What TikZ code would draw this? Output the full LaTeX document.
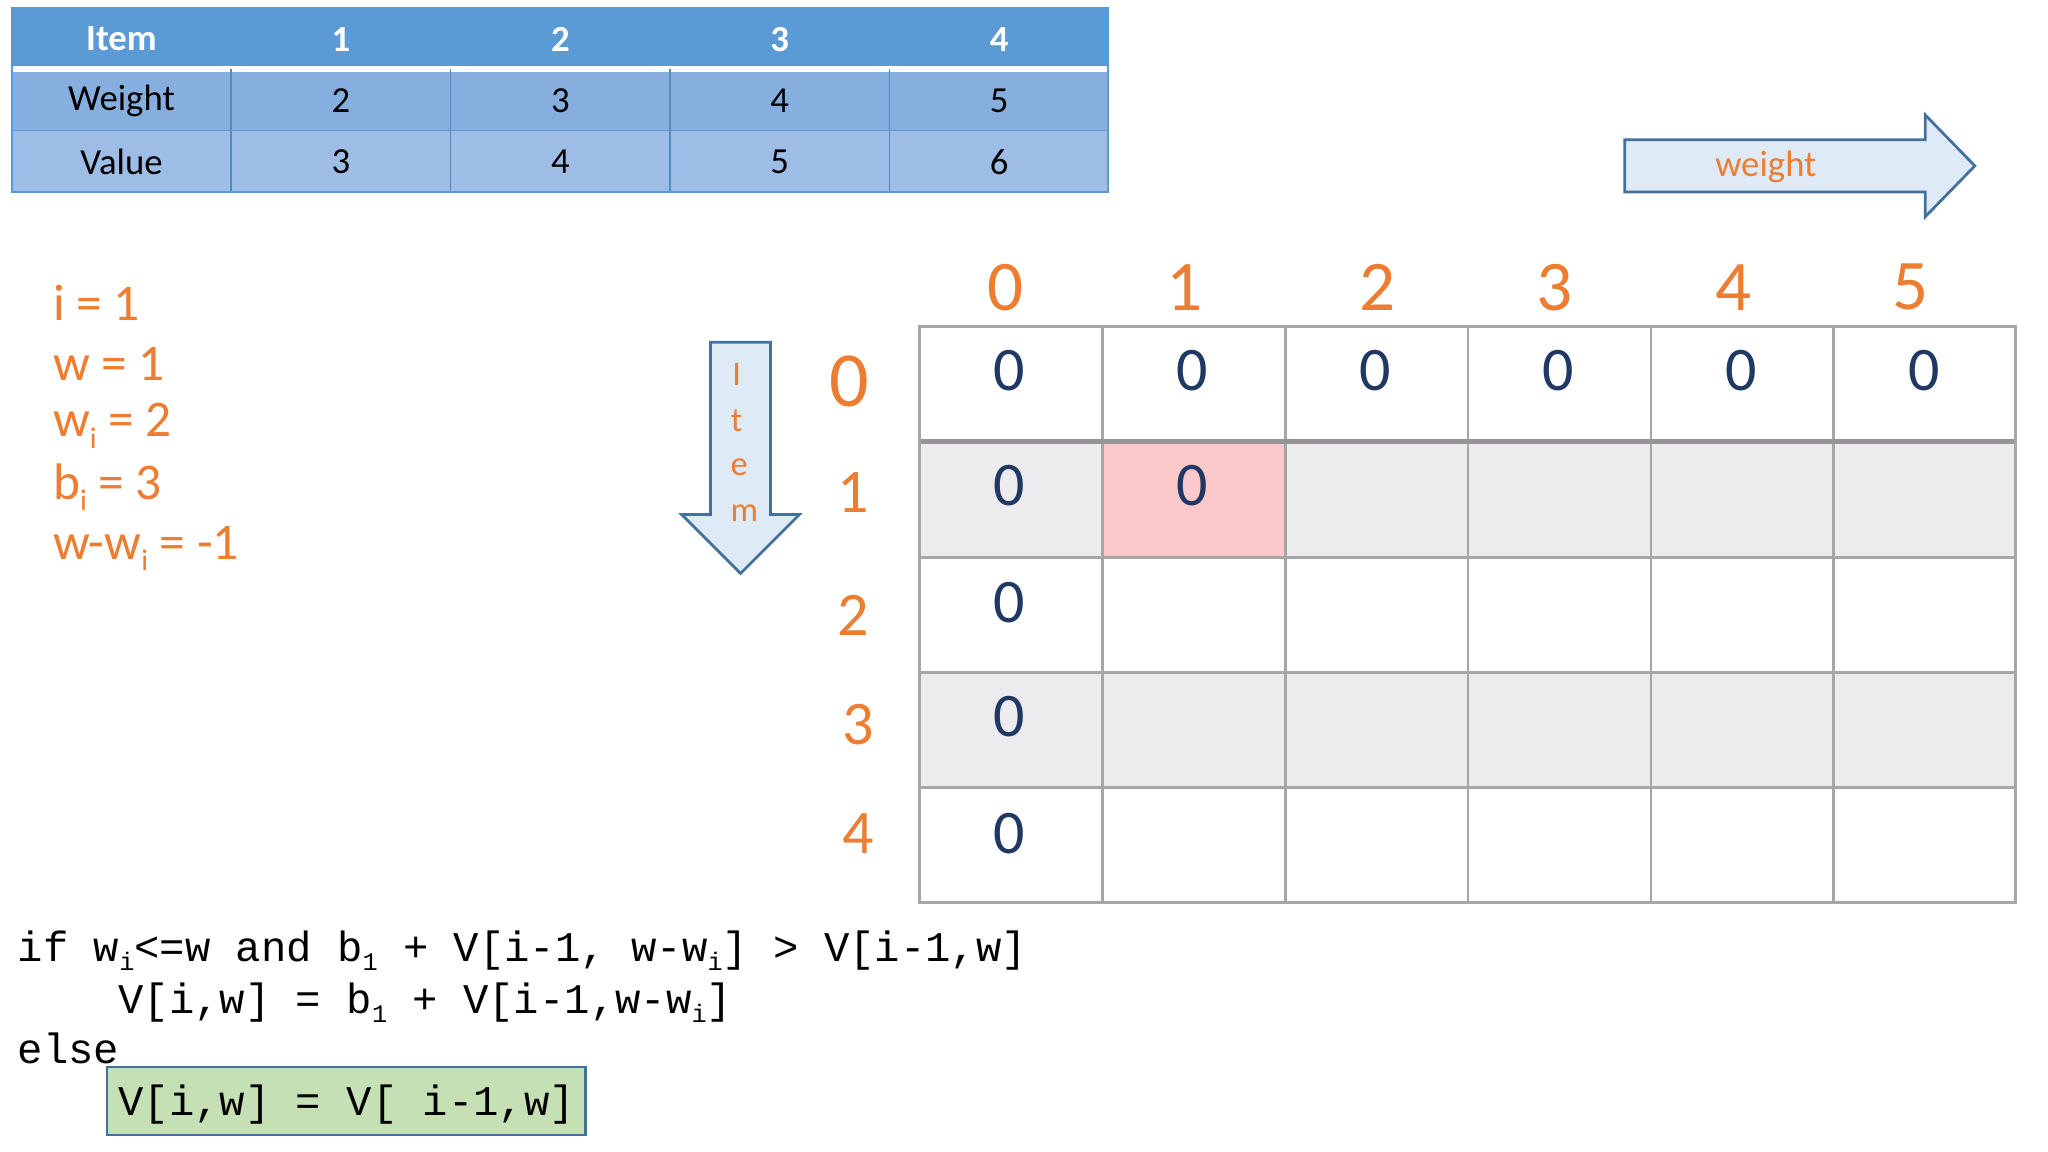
\documentclass[tikz,border=0pt]{standalone}
\usepackage{fontspec}
\setmainfont{Carlito}
\newfontfamily\codefont{Liberation Mono}
\definecolor{hdr}{HTML}{5B9BD5}
\definecolor{rowa}{HTML}{86AEDF}
\definecolor{rowb}{HTML}{9DBDE6}
\definecolor{org}{HTML}{ED7D31}
\definecolor{dblue}{HTML}{1F3864}
\definecolor{lgray}{HTML}{EDEBEE}
\definecolor{pinkc}{HTML}{FBC9C9}
\definecolor{gline}{HTML}{A6A6A6}
\definecolor{arrfill}{HTML}{DEEBF7}
\definecolor{arrline}{HTML}{41719C}
\definecolor{greenc}{HTML}{C5E0B4}
\newcommand{\fs}[1]{\fontsize{#1}{#1}\selectfont}
\newcommand{\osub}[1]{\raisebox{-0.45ex}{\fs{6.5}#1}}
\newcommand{\csub}[1]{\raisebox{-0.4ex}{\fs{5.5}#1}}
\tikzset{
 tcell/.style={font=\fs{8}, text=black},
 thead/.style={font=\fs{8}\bfseries, text=white},
 otext/.style={font=\fs{11.2}, text=org, anchor=west, inner sep=0},
 colnum/.style={font=\fs{15.5}, text=org},
 rownum/.style={font=\fs{13.5}, text=org},
 cval/.style={font=\fs{13.5}, text=dblue},
 code/.style={font=\codefont\fs{9.2}, anchor=base west, inner sep=0},
}
\begin{document}
\begin{tikzpicture}[x=0.01cm,y=-0.01cm]
\useasboundingbox (0,0) rectangle (1568,882);
\fill[white] (0,0) rectangle (1568,882);
% item table
\fill[hdr] (9,6) rectangle (848,53);
\fill[rowa] (9,53) rectangle (848,100);
\fill[rowb] (9,100) rectangle (848,147);
\draw[white,line width=1.2pt] (9,53) -- (848,53);
\foreach \x in {177,345,513,681} \draw[hdr!90!black,line width=0.3pt] (\x,53) -- (\x,147);
\draw[hdr,line width=0.3pt] (9,100) -- (848,100);
\draw[hdr,line width=0.4pt] (9,6) rectangle (848,147);
\node[thead] (h0) at (93,30) {Item};
\node[tcell] (w0) at (93,77) {Weight};
\node[tcell] (v0) at (93,124) {Value};
\foreach \i/\w/\v [evaluate=\i as \cx using 261+168*(\i-1)] in {1/2/3,2/3/4,3/4/5,4/5/6}{
  \node[thead] (h\i) at (\cx,30) {\i};
  \node[tcell] (w\i) at (\cx,77) {\w};
  \node[tcell] (v\i) at (\cx,124) {\v};
}
% left variables
\node[otext] (vi) at (40,232) {i = 1};
\node[otext] (vw) at (40,279) {w = 1};
\node[otext] (vwi) at (40,326) {w\osub{i} = 2};
\node[otext] (vbi) at (40,373) {b\osub{i} = 3};
\node[otext] (vd) at (40,420) {w-w\osub{i} = -1};
% weight arrow
\draw[arrline,fill=arrfill,line width=0.6pt] (1244,107) -- (1474,107) -- (1474,88) -- (1512,127) -- (1474,166) -- (1474,147) -- (1244,147) -- cycle;
\node[font=\fs{8}, text=org] (wlab) at (1352,128) {weight};
% item arrow
\draw[arrline,fill=arrfill,line width=0.6pt] (544,262) -- (590,262) -- (590,394) -- (612,394) -- (567,439) -- (522,394) -- (544,394) -- cycle;
\node[font=\fs{7.5}, text=org] (lI) at (564,287) {I};
\node[font=\fs{7.5}, text=org] (lt) at (564,322) {t};
\node[font=\fs{7.5}, text=org] (le) at (566,358) {e};
\node[font=\fs{7.5}, text=org] (lm) at (570,393) {m};
% grid
\fill[lgray] (704,338) rectangle (1543,427);
\fill[lgray] (704,515) rectangle (1543,603);
\fill[pinkc] (844,338) rectangle (984,427);
\foreach \y in {427,515,603} \draw[gline,line width=0.6pt] (704,\y) -- (1543,\y);
\foreach \x in {844,984,1124,1264,1404} \draw[gline,line width=0.6pt] (\x,250) -- (\x,691);
\draw[gline!90!black,line width=1.1pt] (704,338) -- (1543,338);
\draw[gline,line width=0.6pt] (704,250) rectangle (1543,691);
\foreach \c/\x in {0/770,1/907,2/1055,3/1190,4/1327,5/1463}
  \node[colnum] (c\c) at (\x,220) {\c};
\node[colnum,font=\fs{17}] (r0) at (650,292) {0};
\node[rownum] (r1) at (653,377) {1};
\node[rownum] (r2) at (653,471) {2};
\node[rownum] (r3) at (657,555) {3};
\node[rownum] (r4) at (657,638) {4};
\foreach \c/\x in {0/773,1/913,2/1053,3/1193,4/1333,5/1473}
  \node[cval] (z\c) at (\x,284) {0};
\node[cval] (a0) at (773,372) {0};
\node[cval] (a1) at (913,372) {0};
\node[cval] (b0) at (773,461) {0};
\node[cval] (d0) at (773,549) {0};
\node[cval] (e0) at (773,638) {0};
% code
\node[code] (l1) at (13,736) {if w\csub{i}<=w and b\csub{1} + V[i-1, w-w\csub{i}] > V[i-1,w]};
\node[code] (l2) at (90,776) {V[i,w] = b\csub{1} + V[i-1,w-w\csub{i}]};
\node[code] (l3) at (13,814) {else};
\draw[arrline,fill=greenc,line width=0.6pt] (82,817) rectangle (448,869);
\node[code] (l4) at (90,854) {V[i,w] = V[ i-1,w]};
\end{tikzpicture}
\end{document}
